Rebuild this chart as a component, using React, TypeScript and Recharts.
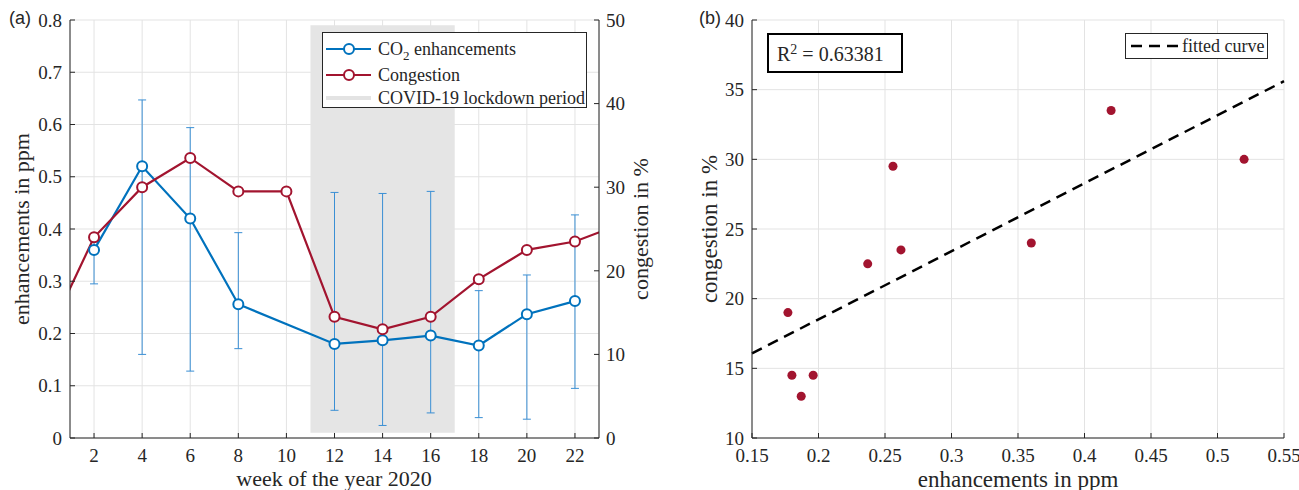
import React from 'react';
import {
  ComposedChart,
  Line,
  Scatter,
  XAxis,
  YAxis,
  CartesianGrid,
  ReferenceArea,
  ReferenceLine,
  ErrorBar,
} from 'recharts';

// weekly values, 2020 (weeks 0 and 24 only feed the clipped line ends)
const weeks = [0, 2, 4, 6, 8, 10, 12, 14, 16, 18, 20, 22, 24];
const co2 = [null, 0.36, 0.52, 0.42, 0.256, null, 0.18, 0.187, 0.196, 0.177, 0.237, 0.262, null];
const co2Low = [null, 0.295, 0.16, 0.128, 0.171, null, 0.053, 0.024, 0.048, 0.039, 0.036, 0.095, null];
const co2High = [null, 0.375, 0.647, 0.594, 0.393, null, 0.47, 0.468, 0.472, 0.282, 0.312, 0.427, null];
const congestion = [11.8, 24, 30, 33.5, 29.5, 29.5, 14.5, 13, 14.5, 19, 22.5, 23.5, 25.7];

const weekTicks = [2, 4, 6, 8, 10, 12, 14, 16, 18, 20, 22];
const ppmTicks = [0, 0.1, 0.2, 0.3, 0.4, 0.5, 0.6, 0.7, 0.8];
const pctTicks = [0, 10, 20, 30, 40, 50];
const lockdown = [11, 17];

const scatterXTicks = [0.15, 0.2, 0.25, 0.3, 0.35, 0.4, 0.45, 0.5, 0.55];
const scatterYTicks = [10, 15, 20, 25, 30, 35, 40];

const BLUE = '#0072BD';
const BLUE_ERR = '#3A8FD4';
const RED = '#A2142F';
const AXIS = '#262626';
const GRID = '#E3E3E3';
const SERIF = "'Liberation Serif', 'Times New Roman', serif";
const SANS = "'Liberation Sans', Arial, sans-serif";

const weeklyData = weeks.map((w, i) => ({
  week: w,
  co2: co2[i],
  co2Err: co2[i] == null ? undefined : [co2[i]! - co2Low[i]!, co2High[i]! - co2[i]!],
  congestion: congestion[i],
}));

const scatterData = weeks
  .map((w, i) => ({ week: w, x: co2[i], y: congestion[i] }))
  .filter((d) => d.x != null && d.week >= 2 && d.week <= 22) as { x: number; y: number }[];

// least squares fit of congestion against enhancements
const fit = (() => {
  const n = scatterData.length;
  const mx = scatterData.reduce((s, d) => s + d.x, 0) / n;
  const my = scatterData.reduce((s, d) => s + d.y, 0) / n;
  let sxy = 0;
  let sxx = 0;
  scatterData.forEach((d) => {
    sxy += (d.x - mx) * (d.y - my);
    sxx += (d.x - mx) ** 2;
  });
  const slope = sxy / sxx;
  return { slope, intercept: my - slope * mx };
})();

// serif tick text (the tick object's fontFamily did not stick)
const SerifTick = ({ x, y, payload, textAnchor, verticalAnchor }: any) => {
  const dy = verticalAnchor === 'start' ? '0.71em' : verticalAnchor === 'middle' ? '0.355em' : 0;
  return (
    <text
      x={x}
      y={y}
      dy={dy}
      textAnchor={textAnchor}
      fill={AXIS}
      fontSize={19}
      style={{ fontFamily: SERIF }}
    >
      {String(payload.value)}
    </text>
  );
};

const Txt = ({ x, y, rotate, size = 22, children, family = SERIF }: any) => (
  <div
    style={{
      position: 'absolute',
      left: x,
      top: y,
      transform: `translate(-50%, -50%)${rotate ? ' rotate(-90deg)' : ''}`,
      whiteSpace: 'nowrap',
      fontFamily: family,
      fontSize: size,
      lineHeight: 1,
      color: AXIS,
    }}
  >
    {children}
  </div>
);

const LegendRow = ({ color, marker, h, children }: any) => (
  <div style={{ display: 'flex', alignItems: 'center', height: h, whiteSpace: 'nowrap' }}>
    <svg width={50} height={12} style={{ marginRight: 5, flexShrink: 0 }}>
      <line x1={3} y1={6} x2={48} y2={6} stroke={color} strokeWidth={marker ? 2 : 4} />
      {marker && <circle cx={26} cy={6} r={5} fill="#fff" stroke={color} strokeWidth={2} />}
    </svg>
    <span>{children}</span>
  </div>
);

const PanelA = () => (
  <div style={{ position: 'absolute', left: 0, top: 0 }}>
    <ComposedChart
      width={660}
      height={490}
      data={weeklyData}
      margin={{ top: 20, right: 11, bottom: 12, left: 20 }}
    >
      <CartesianGrid yAxisId="left" stroke={GRID} />
      <XAxis
        dataKey="week"
        type="number"
        domain={[1, 23]}
        allowDataOverflow
        ticks={weekTicks}
        height={40}
        tickSize={-5}
        tickMargin={16}
        stroke={AXIS}
        tick={<SerifTick />}
      />
      <YAxis
        yAxisId="left"
        domain={[0, 0.8]}
        ticks={ppmTicks}
        width={50}
        tickSize={-5}
        tickMargin={13}
        stroke={AXIS}
        tick={<SerifTick />}
      />
      <YAxis
        yAxisId="right"
        orientation="right"
        domain={[0, 50]}
        ticks={pctTicks}
        width={50}
        tickSize={-5}
        tickMargin={12}
        stroke={AXIS}
        tick={<SerifTick />}
      />
      <ReferenceArea
        yAxisId="left"
        x1={lockdown[0]}
        x2={lockdown[1]}
        y1={0.01}
        y2={0.79}
        fill="#E5E5E5"
        fillOpacity={1}
        stroke="none"
      />
      <Line
        yAxisId="left"
        dataKey="co2"
        stroke={BLUE}
        strokeWidth={2.2}
        connectNulls
        dot={{ r: 5, fill: '#fff', stroke: BLUE, strokeWidth: 2 }}
        isAnimationActive={false}
      >
        <ErrorBar dataKey="co2Err" direction="y" width={4} stroke={BLUE_ERR} strokeWidth={1} />
      </Line>
      <Line
        yAxisId="right"
        dataKey="congestion"
        stroke={RED}
        strokeWidth={2.2}
        dot={{ r: 5, fill: '#fff', stroke: RED, strokeWidth: 2 }}
        isAnimationActive={false}
      />
    </ComposedChart>
  </div>
);

const PanelB = () => (
  <div style={{ position: 'absolute', left: 660, top: 0 }}>
    <ComposedChart width={639} height={490} margin={{ top: 20, right: 15, bottom: 12, left: 42 }}>
      <CartesianGrid stroke={GRID} />
      <XAxis
        dataKey="x"
        type="number"
        domain={[0.15, 0.55]}
        ticks={scatterXTicks}
        height={40}
        tickSize={-5}
        tickMargin={16}
        stroke={AXIS}
        tick={<SerifTick />}
      />
      <YAxis
        dataKey="y"
        type="number"
        domain={[10, 40]}
        ticks={scatterYTicks}
        width={50}
        tickSize={-5}
        tickMargin={13}
        stroke={AXIS}
        tick={<SerifTick />}
      />
      <ReferenceLine
        segment={[
          { x: 0.15, y: fit.intercept + fit.slope * 0.15 },
          { x: 0.55, y: fit.intercept + fit.slope * 0.55 },
        ]}
        stroke="#000"
        strokeWidth={2.5}
        strokeDasharray="11 7"
      />
      <Scatter data={scatterData} fill={RED} isAnimationActive={false} />
    </ComposedChart>
  </div>
);

export default function App() {
  return (
    <div
      style={{
        position: 'absolute',
        left: 0,
        top: 0,
        width: 1299,
        height: 490,
        background: '#fff',
        overflow: 'hidden',
        fontFamily: SERIF,
      }}
    >
      <PanelA />
      <PanelB />

      <Txt x={20} y={18} size={18} family={SANS}>(a)</Txt>
      <Txt x={710} y={18} size={18} family={SANS}>(b)</Txt>

      <Txt x={22} y={229} rotate>enhancements in ppm</Txt>
      <Txt x={641} y={229} rotate>congestion in %</Txt>
      <Txt x={334} y={479}>week of the year 2020</Txt>
      <Txt x={709} y={229} rotate size={23}>congestion in %</Txt>
      <Txt x={1018} y={479} size={23}>enhancements in ppm</Txt>

      {/* legend, panel (a) */}
      <div
        style={{
          position: 'absolute',
          left: 322,
          top: 32,
          width: 265,
          height: 76,
          border: `1px solid ${AXIS}`,
          background: '#fff',
          fontFamily: SERIF,
          fontSize: 18,
          color: AXIS,
          paddingTop: 3,
          boxSizing: 'border-box',
          overflow: 'hidden',
        }}
      >
        <LegendRow color={BLUE} marker h={26}>
          CO<sub style={{ fontSize: 13, verticalAlign: -5, lineHeight: 0 }}>2</sub> enhancements
        </LegendRow>
        <LegendRow color={RED} marker h={26}>
          Congestion
        </LegendRow>
        <LegendRow color="#E3E3E3" h={20}>
          COVID-19 lockdown period
        </LegendRow>
      </div>

      {/* R^2 box, panel (b) */}
      <div
        style={{
          position: 'absolute',
          left: 767,
          top: 33,
          width: 136,
          height: 40,
          border: '2px solid #000',
          background: '#fff',
          boxSizing: 'border-box',
          fontFamily: SERIF,
          fontSize: 20,
          color: AXIS,
          paddingLeft: 8,
          paddingTop: 9,
          whiteSpace: 'nowrap',
          lineHeight: 1,
        }}
      >
        R<sup style={{ fontSize: 14, verticalAlign: 7, lineHeight: 0 }}>2</sup> = {'0.63381'}
      </div>

      {/* legend, panel (b) */}
      <div
        style={{
          position: 'absolute',
          left: 1125,
          top: 33,
          width: 143,
          height: 26,
          border: `1px solid ${AXIS}`,
          background: '#fff',
          boxSizing: 'border-box',
          display: 'flex',
          alignItems: 'center',
          fontFamily: SERIF,
          fontSize: 18,
          color: AXIS,
          whiteSpace: 'nowrap',
        }}
      >
        <svg width={56} height={10} style={{ flexShrink: 0 }}>
          <line x1={5} y1={5} x2={53} y2={5} stroke="#000" strokeWidth={2.5} strokeDasharray="11 7" />
        </svg>
        <span>fitted curve</span>
      </div>
    </div>
  );
}
